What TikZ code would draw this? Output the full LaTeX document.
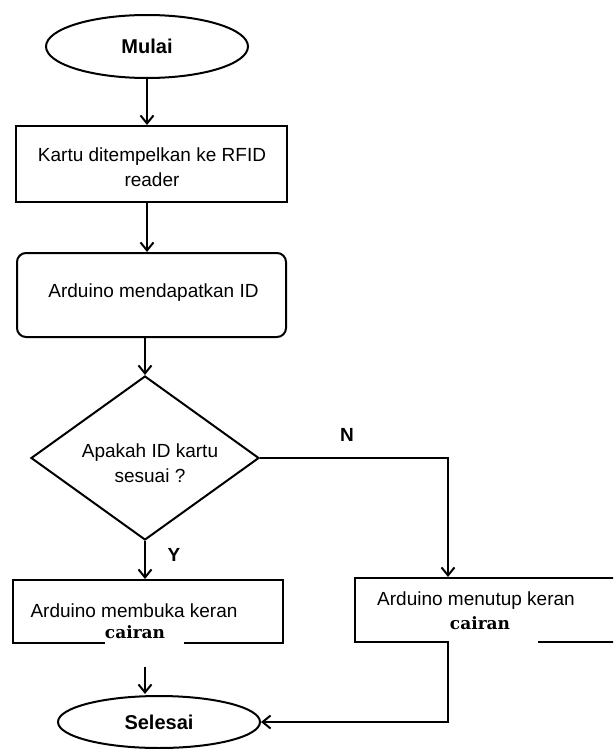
\documentclass[tikz,border=0pt]{standalone}
\usepackage{fontspec}
\setmainfont{Liberation Sans}
\newfontfamily\cairanfont{DejaVu Serif}
\usetikzlibrary{shapes.geometric,arrows.meta,calc}
\begin{document}
\begin{tikzpicture}[x=1pt,y=1pt,
  line width=2pt,
  arr/.style={-{Straight Barb[length=8pt,width=13pt,line width=2pt]}},
  txt/.style={font=\fontsize{19}{25}\selectfont, align=center},
  term/.style={ellipse, draw, minimum width=202pt, inner sep=0pt, font=\fontsize{20}{24}\selectfont\bfseries},
  procbox/.style={rectangle, draw, inner sep=0pt},
  lbl/.style={font=\fontsize{19}{22}\selectfont\bfseries},
  cair/.style={font=\fontsize{17}{20}\cairanfont\bfseries, fill=white, inner sep=1pt}
]
\clip (0,0) rectangle (613,-749);
\fill[white] (0,0) rectangle (613,-749);

\node[term, minimum height=63pt] (mulai) at (147,-46.5) {Mulai};
\node[procbox, minimum width=271pt, minimum height=76pt] (box1) at (151.5,-164) {};
\node[txt] (t1) at (152,-167) {Kartu ditempelkan ke RFID\\reader};
\node[procbox, rounded corners=9pt, minimum width=269pt, minimum height=84pt] (box2) at (151.5,-295) {};
\node[txt] (t2) at (153.5,-293) {Arduino mendapatkan ID};
\node[diamond, draw, minimum width=228pt, minimum height=164pt, inner sep=0pt] (dec) at (145,-458) {};
\node[txt] (t3) at (150,-463) {Apakah ID kartu\\sesuai ?};
\node[procbox, minimum width=270pt, minimum height=63pt] (box3) at (148,-611.5) {};
\node[procbox, minimum width=270pt, minimum height=64pt] (box4) at (490,-610) {};
\node[term, minimum height=52pt] (selesai) at (159,-722) {Selesai};

% gaps in bottom borders
\fill[white] (105,-638) rectangle (184,-648);
\fill[white] (449,-637) rectangle (538,-647);

\node[txt, anchor=base] (t4) at (134,-617) {Arduino membuka keran};
\node[cair, anchor=base] (c4) at (135,-638) {cairan};
\node[txt, anchor=base] (t5) at (476,-605) {Arduino menutup keran};
\node[cair, anchor=base] (c5) at (480,-629) {cairan};

\node[lbl] (N) at (347,-435) {N};
\node[lbl] (Y) at (174,-555) {Y};

\coordinate (nx) at (448,-458);
\coordinate (ax) at (145,-667);
\coordinate (rx) at (448,-722);

\draw[arr] (mulai.south -| 147,0) -- (147,-125);
\draw[arr] (147,-202) -- (147,-252);
\draw[arr] (145,-337) -- (dec.north);
\draw[arr] (dec.south) -- (dec.south |- box3.north);
\draw[arr] (dec.east) -- (nx) -- (nx |- box4.north);
\draw[arr] (ax) -- (145,-694);
\draw[arr] (nx |- box4.south) -- (rx) -- (selesai.east);
\end{tikzpicture}
\end{document}
